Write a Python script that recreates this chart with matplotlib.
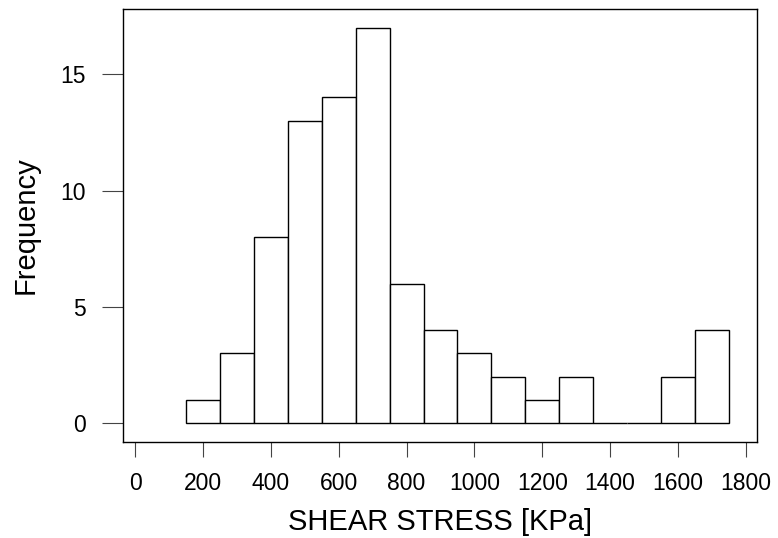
import matplotlib
matplotlib.use("Agg")
import matplotlib.pyplot as plt
import numpy as np

plt.rcParams['font.family'] = ['Liberation Sans', 'DejaVu Sans']

bin_edges = [150, 250, 350, 450, 550, 650, 750, 850, 950, 1050, 1150, 1250, 1350, 1450, 1550, 1650, 1750]
counts = [1, 3, 8, 13, 14, 17, 6, 4, 3, 2, 1, 2, 0, 0, 2, 4]
x_ticks = [0, 200, 400, 600, 800, 1000, 1200, 1400, 1600, 1800]
y_ticks = [0, 5, 10, 15]

fig = plt.figure(figsize=(7.78, 5.38), dpi=100)
ax = fig.add_axes([0.1585, 0.178, 0.973 - 0.1585, 0.984 - 0.178])

edges = np.array(bin_edges)
ax.bar(edges[:-1], counts, width=np.diff(edges), align='edge',
       facecolor='white', edgecolor='black', linewidth=1.0)

ax.set_xlim(-35, 1833)
ax.set_ylim(-0.82, 17.82)
ax.set_xticks(x_ticks)
ax.set_yticks(y_ticks)
ax.tick_params(axis='x', length=10.5, width=0.8, pad=11, labelsize=16.5, color='#444444')
ax.tick_params(axis='y', length=14.8, width=0.8, pad=12, labelsize=16.5, color='#444444')
for s in ax.spines.values():
    s.set_linewidth(1.0)
ax.set_xlabel('SHEAR STRESS [KPa]', fontsize=21, labelpad=9)
ax.set_ylabel('Frequency', fontsize=21, labelpad=15)

fig.savefig('out.png', dpi=100)
